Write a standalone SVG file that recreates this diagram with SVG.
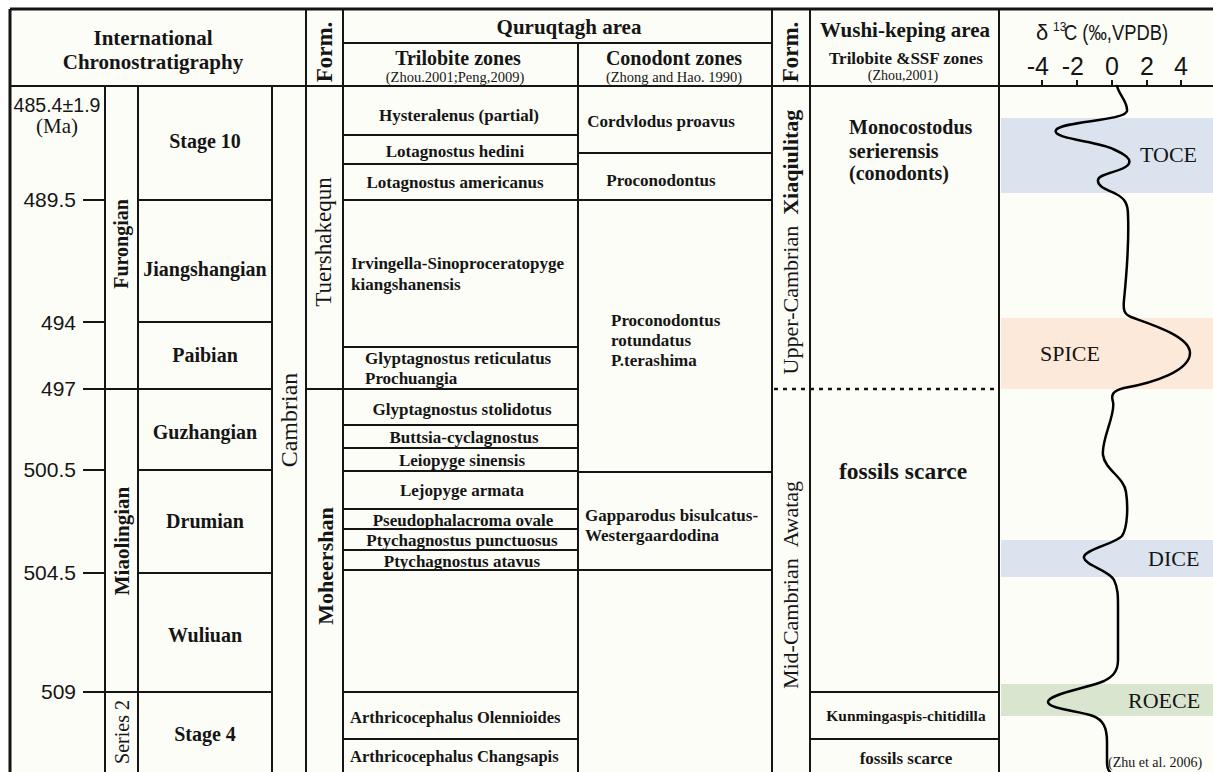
<svg xmlns="http://www.w3.org/2000/svg" width="1213" height="772" viewBox="0 0 1213 772">
<style>
.ln{stroke:#151515;stroke-width:2;fill:none}
.thk{stroke:#151515;stroke-width:3;fill:none}
.dot{stroke:#151515;stroke-width:2.5;stroke-dasharray:4 5;fill:none}
.b{font-family:'Liberation Serif','Times New Roman',serif;font-weight:bold;fill:#151515}
.r{font-family:'Liberation Serif','Times New Roman',serif;fill:#151515}
.s{font-family:'Liberation Sans',Arial,sans-serif;fill:#151515}
.c{text-anchor:middle}
.e{text-anchor:end}
.curve{stroke:#000;stroke-width:2.5;fill:none;stroke-linecap:round}
</style>
<rect width="1213" height="772" fill="#ffffff"/>
<rect x="10" y="9" width="1203" height="763" fill="#fdfdf8"/>

<g id="bands">
<rect x="1001" y="118" width="212" height="75" fill="#dbe4ee"/>
<rect x="1001" y="318" width="212" height="71" fill="#fde9da"/>
<rect x="1001" y="540" width="212" height="37" fill="#dbe4ee"/>
<rect x="1001" y="684" width="212" height="32" fill="#d9e5cf"/>
</g>

<g id="grid">
<path class="thk" d="M10,9H1213M10,9V772"/>
<path class="ln" d="M10,86H1213M343,43H772"/>
<path class="ln" d="M105,86V772M138,86V772M272,86V772M306,9V772M343,9V772M578,43V772M772,9V772M810,9V772M999,9V772"/>
<path class="ln" d="M83,200H105M83,322H105M83,389H105M83,470H105M83,573H105M83,692H105"/>
<path class="ln" d="M138,200H272M138,322H272M105,389H272M138,470H272M138,573H272M105,692H272M306,389H343"/>
<path class="ln" d="M343,135H578M343,164H578M343,200H578M343,347H578M343,389H578M343,425H578M343,448H578M343,471H578M343,509H578M343,529H578M343,550H578M343,570H578M343,692H578M343,739H578"/>
<path class="ln" d="M578,153H772M578,200H772M578,472H772M578,570H772"/>
<path class="ln" d="M810,692H999M810,739H999"/>
<path class="dot" d="M774,389H999"/>
<path class="ln" d="M1042,80V86M1077,80V86M1112,80V86M1147,80V86M1181,80V86"/>
</g>

<g id="intl-chrono">
<text class="b c" x="153" y="45" font-size="21">International</text>
<text class="b c" x="153" y="69" font-size="21">Chronostratigraphy</text>
<text class="s c" x="57" y="112" font-size="20" textLength="87" lengthAdjust="spacingAndGlyphs">485.4±1.9</text>
<text class="r c" x="57" y="133" font-size="21">(Ma)</text>
<text class="s e" x="76" y="207" font-size="21">489.5</text>
<text class="s e" x="76" y="330" font-size="21">494</text>
<text class="s e" x="76" y="396" font-size="21">497</text>
<text class="s e" x="76" y="477" font-size="21">500.5</text>
<text class="s e" x="76" y="580" font-size="21">504.5</text>
<text class="s e" x="76" y="699" font-size="21">509</text>
<text class="b c" transform="translate(128,244) rotate(-90)" font-size="20">Furongian</text>
<text class="b c" transform="translate(129,541) rotate(-90)" font-size="21">Miaolingian</text>
<text class="r c" transform="translate(129,732) rotate(-90)" font-size="20">Series 2</text>
<text class="b c" x="205" y="148" font-size="20">Stage 10</text>
<text class="b c" x="205" y="276" font-size="20">Jiangshangian</text>
<text class="b c" x="205" y="362" font-size="20">Paibian</text>
<text class="b c" x="205" y="439" font-size="20">Guzhangian</text>
<text class="b c" x="205" y="528" font-size="20">Drumian</text>
<text class="b c" x="205" y="642" font-size="20">Wuliuan</text>
<text class="b c" x="205" y="741" font-size="20">Stage 4</text>
<text class="r c" transform="translate(297,420) rotate(-90)" font-size="24">Cambrian</text>
</g>

<g id="form-quruqtagh">
<text class="b c" transform="translate(332,52) rotate(-90)" font-size="23">Form.</text>
<text class="r c" transform="translate(331,242) rotate(-90)" font-size="23">Tuershakequn</text>
<text class="b c" transform="translate(333,566) rotate(-90)" font-size="22">Moheershan</text>
</g>

<g id="quruqtagh">
<text class="b c" x="569" y="34" font-size="21">Quruqtagh area</text>
<text class="b c" x="458" y="65" font-size="20">Trilobite zones</text>
<text class="r c" x="455" y="82" font-size="14.5">(Zhou.2001;Peng,2009)</text>
<text class="b c" x="674" y="65" font-size="20">Conodont zones</text>
<text class="r c" x="674" y="82" font-size="14.5">(Zhong and Hao. 1990)</text>
</g>

<g id="trilobite-zones">
<text class="b c" x="459" y="121" font-size="17">Hysteralenus (partial)</text>
<text class="b c" x="455" y="157" font-size="17">Lotagnostus hedini</text>
<text class="b c" x="455" y="188" font-size="17">Lotagnostus americanus</text>
<text class="b" x="351" y="269" font-size="17">Irvingella-Sinoproceratopyge</text>
<text class="b" x="351" y="290" font-size="17">kiangshanensis</text>
<text class="b" x="365" y="364" font-size="17">Glyptagnostus reticulatus</text>
<text class="b" x="365" y="384" font-size="17">Prochuangia</text>
<text class="b c" x="462" y="415" font-size="17">Glyptagnostus stolidotus</text>
<text class="b c" x="464" y="443" font-size="17">Buttsia-cyclagnostus</text>
<text class="b c" x="462" y="466" font-size="17">Leiopyge sinensis</text>
<text class="b c" x="462" y="496" font-size="17">Lejopyge armata</text>
<text class="b c" x="463" y="526" font-size="17">Pseudophalacroma ovale</text>
<text class="b c" x="462" y="546" font-size="17">Ptychagnostus punctuosus</text>
<text class="b c" x="462" y="567" font-size="17">Ptychagnostus atavus</text>
<text class="b" x="350" y="723" font-size="16.5">Arthricocephalus Olennioides</text>
<text class="b" x="350" y="762" font-size="16.5">Arthricocephalus Changsapis</text>
</g>

<g id="conodont-zones">
<text class="b c" x="661" y="127" font-size="17">Cordvlodus proavus</text>
<text class="b c" x="661" y="186" font-size="17">Proconodontus</text>
<text class="b" x="611" y="326" font-size="17">Proconodontus</text>
<text class="b" x="611" y="346" font-size="17">rotundatus</text>
<text class="b" x="611" y="366" font-size="17">P.terashima</text>
<text class="b" x="585" y="521" font-size="17">Gapparodus bisulcatus-</text>
<text class="b" x="585" y="541" font-size="17">Westergaardodina</text>
</g>

<g id="form-wushi">
<text class="b c" transform="translate(798,52) rotate(-90)" font-size="23">Form.</text>
<text class="r c" transform="translate(798,242) rotate(-90)" font-size="22">Upper-Cambrian<tspan class="b" dx="11">Xiaqiulitag</tspan></text>
<text class="r c" transform="translate(798,585) rotate(-90)" font-size="22">Mid-Cambrian<tspan dx="11">Awatag</tspan></text>
</g>

<g id="wushi">
<text class="b c" x="905" y="37" font-size="21">Wushi-keping area</text>
<text class="b c" x="906" y="64" font-size="17">Trilobite &amp;SSF zones</text>
<text class="r c" x="903" y="80" font-size="14">(Zhou,2001)</text>
<text class="b" x="849" y="134" font-size="20">Monocostodus</text>
<text class="b" x="849" y="158" font-size="20">serierensis</text>
<text class="b" x="849" y="180" font-size="20">(conodonts)</text>
<text class="b c" x="903" y="479" font-size="23.5">fossils scarce</text>
<text class="b c" x="906" y="721" font-size="15.5">Kunmingaspis-chitidilla</text>
<text class="b c" x="906" y="764" font-size="17">fossils scarce</text>
</g>

<g id="d13c">
<text class="s" x="1036" y="40" font-size="22">δ</text>
<text class="s" x="1053" y="31" font-size="12">13</text>
<text class="s" x="1064" y="40" font-size="22" textLength="104" lengthAdjust="spacingAndGlyphs">C (‰,VPDB)</text>
<text class="s e" x="1049" y="75" font-size="25">-4</text>
<text class="s e" x="1084" y="75" font-size="25">-2</text>
<text class="s c" x="1112" y="75" font-size="25">0</text>
<text class="s c" x="1147" y="75" font-size="25">2</text>
<text class="s c" x="1181" y="75" font-size="25">4</text>
<path class="curve" d="M1117,86 C1119,95 1128,102 1127,111 C1125,121 1062,121 1056,130 C1051,139 1098,141 1113,149 C1124,154 1133,159 1128,165 C1122,172 1099,173 1098,180 C1097,187 1108,190 1116,194 C1124,198 1128,203 1128,215 C1129,240 1126,280 1124,300 C1123,310 1124,314 1131,317 C1150,324 1190,336 1190,353 C1190,371 1153,383 1124,388 C1112,391 1111,395 1113,402 C1116,414 1101,440 1103,455 C1105,470 1124,477 1126,492 C1128,505 1128,527 1122,536 C1115,544 1082,550 1084,558 C1086,566 1109,570 1114,580 C1118,588 1118,596 1118,606 L1118,660 C1118,672 1112,677 1104,681 C1088,688 1048,694 1048,702 C1048,709 1080,711 1093,716 C1103,720 1107,727 1107,742 L1107,762 C1107,767 1108,770 1110,772"/>
<text class="r" x="1140" y="162" font-size="22">TOCE</text>
<text class="r" x="1040" y="361" font-size="22">SPICE</text>
<text class="r" x="1148" y="566" font-size="22">DICE</text>
<text class="r" x="1128" y="708" font-size="22">ROECE</text>
<text class="r" x="1108" y="767" font-size="14">(Zhu et al. 2006)</text>
</g>
</svg>
